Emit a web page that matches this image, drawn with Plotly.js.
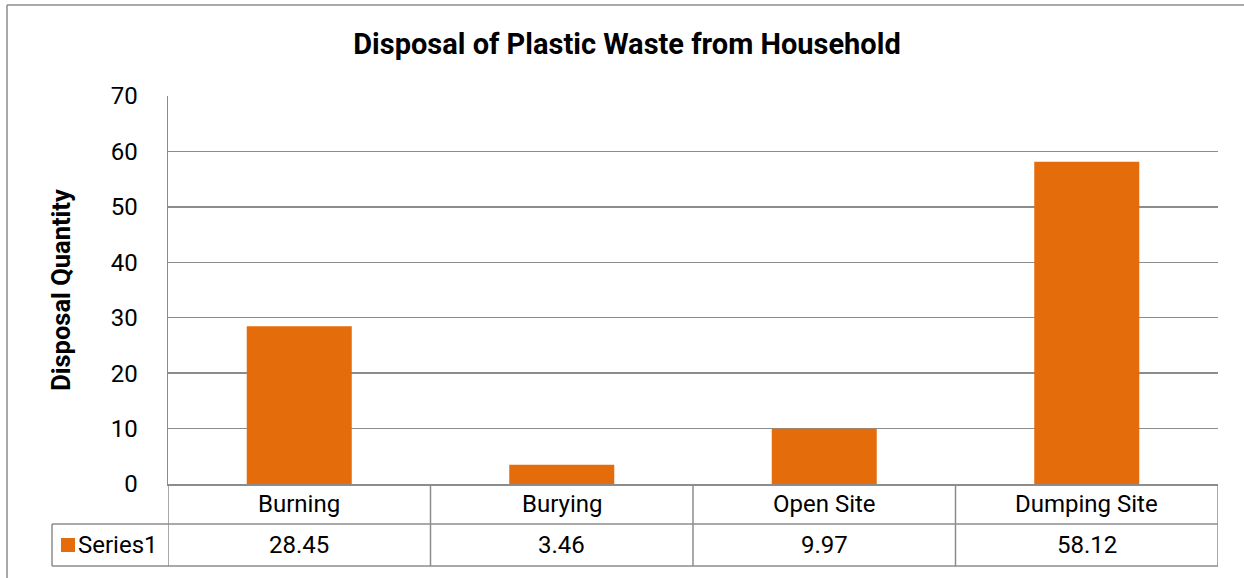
<!DOCTYPE html>
<html>
<head>
<meta charset="utf-8">
<script src="https://cdn.plot.ly/plotly-3.0.1.min.js"></script>
<style>html,body{margin:0;padding:0;background:#fff;}#chart{width:1244px;height:578px;}</style>
</head>
<body>
<div id="chart"></div>
<script>
var categories = ["Burning", "Burying", "Open Site", "Dumping Site"];
var values = [28.45, 3.46, 9.97, 58.12];
var valueLabels = ["28.45", "3.46", "9.97", "58.12"];
var seriesName = "Series1";
var yTicks = [0, 10, 20, 30, 40, 50, 60, 70];

var FONT = "Roboto, sans-serif";
var ORANGE = "#E46C0A";
var GRID = "#8c8c8c";

// plot area: left 168, right 1218, top 96, bottom 484
var W = 1244, H = 578, L = 168, R = 1218, T = 96, B = 484;
var ph = B - T, pw = R - L;
function py(pix) { return (B - pix) / ph; }
function px(pix) { return (pix - L) / pw; }

var shapes = [];
var line = {color: GRID, width: 1.5};
// table verticals at category boundaries
for (var i = 0; i <= categories.length; i++) {
  shapes.push({type: "line", xref: "x", yref: "paper", x0: i - 0.5, x1: i - 0.5, y0: 0, y1: py(566), line: line});
}
// table horizontals
shapes.push({type: "line", xref: "paper", yref: "paper", x0: px(52), x1: 1, y0: py(524), y1: py(524), line: line});
shapes.push({type: "line", xref: "paper", yref: "paper", x0: px(52), x1: 1, y0: py(566), y1: py(566), line: line});
shapes.push({type: "line", xref: "paper", yref: "paper", x0: px(52), x1: px(52), y0: py(524), y1: py(566), line: line});
// legend key
shapes.push({type: "rect", xref: "paper", yref: "paper", x0: px(61), x1: px(75), y0: py(538), y1: py(552), fillcolor: ORANGE, line: {width: 0}});
// outer chart frame (left and top)
shapes.push({type: "line", xref: "paper", yref: "paper", x0: px(7), x1: px(7), y0: py(5), y1: py(590), line: {color: GRID, width: 1.5}});
shapes.push({type: "line", xref: "paper", yref: "paper", x0: px(7), x1: px(1260), y0: py(5), y1: py(5), line: {color: GRID, width: 1.5}});

var annotations = [];
for (var j = 0; j < categories.length; j++) {
  annotations.push({xref: "x", yref: "paper", x: categories[j], y: py(504), text: categories[j], showarrow: false, xanchor: "center", yanchor: "middle", font: {family: FONT, size: 24, color: "#000"}});
  annotations.push({xref: "x", yref: "paper", x: categories[j], y: py(545), text: valueLabels[j], showarrow: false, xanchor: "center", yanchor: "middle", font: {family: FONT, size: 24, color: "#000"}});
}
annotations.push({xref: "paper", yref: "paper", x: px(76), y: py(545), text: seriesName, showarrow: false, xanchor: "left", yanchor: "middle", font: {family: FONT, size: 24, color: "#000"}});

var trace = {
  type: "bar",
  x: categories,
  y: values,
  name: seriesName,
  marker: {color: ORANGE},
  hoverinfo: "x+y"
};

var layout = {
  width: W, height: H,
  margin: {l: L, r: W - R, t: T, b: H - B, pad: 0},
  paper_bgcolor: "#fff", plot_bgcolor: "#fff",
  showlegend: false,
  bargap: 0.6,
  title: {text: "<b>Disposal of Plastic Waste from Household</b>", xref: "container", x: 627 / W, y: 1 - 44 / H, xanchor: "center", yanchor: "middle", font: {family: FONT, size: 29, color: "#000"}},
  xaxis: {type: "category", showticklabels: false, showgrid: false, showline: true, linecolor: GRID, linewidth: 1.5, ticks: "", zeroline: false, range: [-0.5, 3.5], fixedrange: true},
  yaxis: {range: [0, 70], tickvals: yTicks, ticktext: yTicks.map(String), showgrid: true, gridcolor: GRID, gridwidth: 1.5, showline: true, linecolor: GRID, linewidth: 1.5, zeroline: false, ticks: "", ticklabelstandoff: 24, tickfont: {family: FONT, size: 24, color: "#000"},
    title: {text: "<b>Disposal Quantity</b>", standoff: 33, font: {family: FONT, size: 25.5, color: "#000"}}},
  shapes: shapes,
  annotations: annotations
};

Plotly.newPlot("chart", [trace], layout, {displayModeBar: false, staticPlot: true});
</script>
</body>
</html>
